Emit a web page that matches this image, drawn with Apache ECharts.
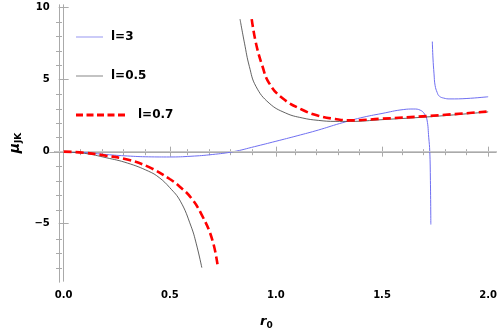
<!DOCTYPE html>
<html>
<head>
<meta charset="utf-8">
<script src="https://cdn.jsdelivr.net/npm/echarts@6/dist/echarts.min.js"></script>
<style>
html,body{margin:0;padding:0;background:#fff;}
#c{width:500px;height:335px;}
</style>
</head>
<body>
<div id="c"></div>
<script>
// ---- data ----
const seriesNames = ['l=3', 'l=0.5', 'l=0.7'];

// l=3 (blue), two branches
const blueR1 = [0, 0.1, 0.2, 0.3, 0.4, 0.5, 0.6, 0.7, 0.8, 0.9, 1.0, 1.1, 1.2, 1.3, 1.4, 1.5, 1.6, 1.65, 1.68, 1.7, 1.712, 1.72, 1.725, 1.728, 1.73];
const blueM1 = [0, -0.07, -0.2, -0.3, -0.36, -0.37, -0.32, -0.2, 0.0, 0.35, 0.72, 1.1, 1.5, 1.95, 2.35, 2.65, 2.92, 2.96, 2.88, 2.62, 2.2, 1.0, 0.0, -2.0, -5.06];
const blueR2 = [1.737, 1.74, 1.745, 1.75, 1.76, 1.77, 1.79, 1.82, 1.9, 2.0];
const blueM2 = [7.64, 6.5, 5.4, 4.6, 4.1, 3.85, 3.72, 3.66, 3.69, 3.81];

// l=0.5 (black), two branches
const blackR1 = [0, 0.1, 0.2, 0.3, 0.4, 0.45, 0.5, 0.55, 0.6, 0.625, 0.651];
const blackM1 = [0, -0.12, -0.42, -0.79, -1.36, -1.8, -2.5, -3.44, -5.17, -6.4, -8.05];
const blackR2 = [0.831, 0.852, 0.875, 0.906, 0.968, 1.046, 1.124, 1.2, 1.279, 1.35, 1.5, 1.75, 2.0];
const blackM2 = [9.2, 7.53, 5.91, 4.53, 3.37, 2.68, 2.34, 2.17, 2.1, 2.1, 2.22, 2.45, 2.76];

// l=0.7 (red dashed), two branches
const redR1 = [0, 0.1, 0.2, 0.3, 0.4, 0.5, 0.55, 0.6, 0.65, 0.7, 0.727];
const redM1 = [0, -0.08, -0.28, -0.55, -1.06, -1.9, -2.47, -3.2, -4.37, -6.1, -8.06];
const redR2 = [0.886, 0.906, 0.937, 0.968, 1.03, 1.124, 1.2, 1.279, 1.35, 1.5, 1.714, 2.0];
const redM2 = [9.2, 7.53, 5.91, 4.76, 3.72, 2.91, 2.49, 2.27, 2.17, 2.29, 2.47, 2.79];

// axis ticks
const xMajor = [0, 0.5, 1.0, 1.5, 2.0];
const xMinor = [0.1, 0.2, 0.3, 0.4, 0.6, 0.7, 0.8, 0.9, 1.1, 1.2, 1.3, 1.4, 1.6, 1.7, 1.8, 1.9];
const yMajor = [-5, 0, 5, 10];
const yMinor = [-8, -7, -6, -4, -3, -2, -1, 1, 2, 3, 4, 6, 7, 8, 9];
const xRange = [-0.042, 2.037];
const yRange = [-8.98, 10.18];

// ---- chart ----
const zip = (a, b) => a.map((v, i) => [v, b[i]]);
const frameColor = '#aaaaaa';
const font = 'DejaVu Sans';

function xAx(gridIndex, position, ticks, len, labels) {
  return {
    type: 'value', gridIndex, position, min: xRange[0], max: xRange[1],
    axisLine: { show: true, lineStyle: { color: frameColor, width: 1 } },
    axisTick: { show: true, inside: true, length: len, customValues: ticks, lineStyle: { color: frameColor, width: 1 } },
    axisLabel: labels ? {
      show: true, customValues: ticks, margin: 9, color: '#000', fontFamily: font, fontWeight: 'bold', fontSize: 10,
      formatter: v => v.toFixed(1)
    } : { show: false },
    splitLine: { show: false }
  };
}
function yAx(gridIndex, position, ticks, len, labels) {
  return {
    type: 'value', gridIndex, position, min: yRange[0], max: yRange[1],
    axisLine: { show: true, lineStyle: { color: frameColor, width: 1 } },
    axisTick: { show: true, inside: true, length: len, customValues: ticks, lineStyle: { color: frameColor, width: 1 } },
    axisLabel: labels ? {
      show: true, customValues: ticks, margin: 5, color: '#000', fontFamily: font, fontWeight: 'bold', fontSize: 10,
      formatter: v => String(v).replace('-', '\u2212')
    } : { show: false },
    splitLine: { show: false }
  };
}

const gridBox = { left: 50, right: 4, top: 5, bottom: 53, containLabel: false };

const xAxes = [
  xAx(0, 'bottom', xMajor, 5, true),
  xAx(0, 'top', xMajor, 5, false),
  xAx(1, 'bottom', xMinor, 3, false),
  xAx(1, 'top', xMinor, 3, false)
];
xAxes[0].name = '{r|r}{s|0}';
xAxes[0].nameLocation = 'middle';
xAxes[0].nameGap = 33;
xAxes[0].nameTextStyle = {
  rich: {
    r: { fontFamily: font, fontStyle: 'italic', fontWeight: 'bold', fontSize: 13, color: '#000' },
    s: { fontFamily: font, fontWeight: 'bold', fontSize: 9, color: '#000', padding: [7, 18, 0, 0] }
  }
};
const yAxes = [
  yAx(0, 'left', yMajor, 5, true),
  yAx(0, 'right', yMajor, 5, false),
  yAx(1, 'left', yMinor, 3, false),
  yAx(1, 'right', yMinor, 3, false)
];
yAxes[0].name = '{m|\u03bc}{s|JK}';
yAxes[0].nameLocation = 'middle';
yAxes[0].nameRotate = 90;
yAxes[0].nameGap = 30;
yAxes[0].nameTextStyle = {
  rich: {
    m: { fontFamily: font, fontStyle: 'italic', fontWeight: 'bold', fontSize: 14, color: '#000' },
    s: { fontFamily: font, fontWeight: 'bold', fontSize: 9, color: '#000', padding: [8, 0, 0, 0] }
  }
};

const blueStyle = { color: '#6f6ff2', width: 1 };
const blackStyle = { color: '#3a3a3a', width: 0.8 };
const redStyle = { color: '#ff0000', width: 2.6, type: [8, 4] };

function line(name, data, style, z) {
  return {
    type: 'line', name, data, xAxisIndex: 0, yAxisIndex: 0,
    symbol: 'none', showSymbol: false, smooth: 0.45,
    lineStyle: style, itemStyle: { color: style.color }, z, animation: false, silent: true
  };
}

const series = [
  {
    type: 'line', data: [], xAxisIndex: 0, yAxisIndex: 0, silent: true,
    markLine: {
      silent: true, symbol: 'none', label: { show: false },
      lineStyle: { color: '#c8c8c8', width: 1, type: 'solid' },
      data: [{ yAxis: 0 }], animation: false
    }, z: 1
  },
  line(seriesNames[0], zip(blueR1, blueM1), blueStyle, 3),
  line(seriesNames[0], zip(blueR2, blueM2), blueStyle, 3),
  line(seriesNames[1], zip(blackR1, blackM1), blackStyle, 4),
  line(seriesNames[1], zip(blackR2, blackM2), blackStyle, 4),
  line(seriesNames[2], zip(redR1, redM1), redStyle, 5),
  line(seriesNames[2], zip(redR2, redM2), redStyle, 5)
];

const solidIcon = 'path://M0,0h27v1.2h-27z';
const dashIcon = 'path://M0,0h7v3h-7z M10.5,0h7v3h-7z M21,0h7v3h-7z M31.5,0h7v3h-7z M42,0h7v3h-7z';
const legText = { fontFamily: font, fontWeight: 'bold', fontSize: 12, color: '#000' };

const chart = echarts.init(document.getElementById('c'), null, { renderer: 'canvas' });
chart.setOption({
  animation: false,
  backgroundColor: '#ffffff',
  grid: [Object.assign({}, gridBox), Object.assign({}, gridBox)],
  xAxis: xAxes,
  yAxis: yAxes,
  legend: [
    { data: [{ name: seriesNames[0], icon: solidIcon, itemStyle: { color: '#a8a8f4', borderWidth: 0 } }],
      left: 76, top: 31, padding: 0, itemWidth: 27, itemHeight: 1.2, selectedMode: false,
      textStyle: Object.assign({ padding: [0, 0, 0, 3] }, legText) },
    { data: [{ name: seriesNames[1], icon: solidIcon, itemStyle: { color: '#9a9a9a', borderWidth: 0 } }],
      left: 76, top: 70, padding: 0, itemWidth: 27, itemHeight: 1.2, selectedMode: false,
      textStyle: Object.assign({ padding: [0, 0, 0, 3] }, legText) },
    { data: [{ name: seriesNames[2], icon: dashIcon, itemStyle: { color: '#ff0000', borderWidth: 0 } }],
      left: 76, top: 109, padding: 0, itemWidth: 53, itemHeight: 3, selectedMode: false,
      textStyle: Object.assign({ padding: [0, 0, 0, 6] }, legText) }
  ],
  series
});
</script>
</body>
</html>
